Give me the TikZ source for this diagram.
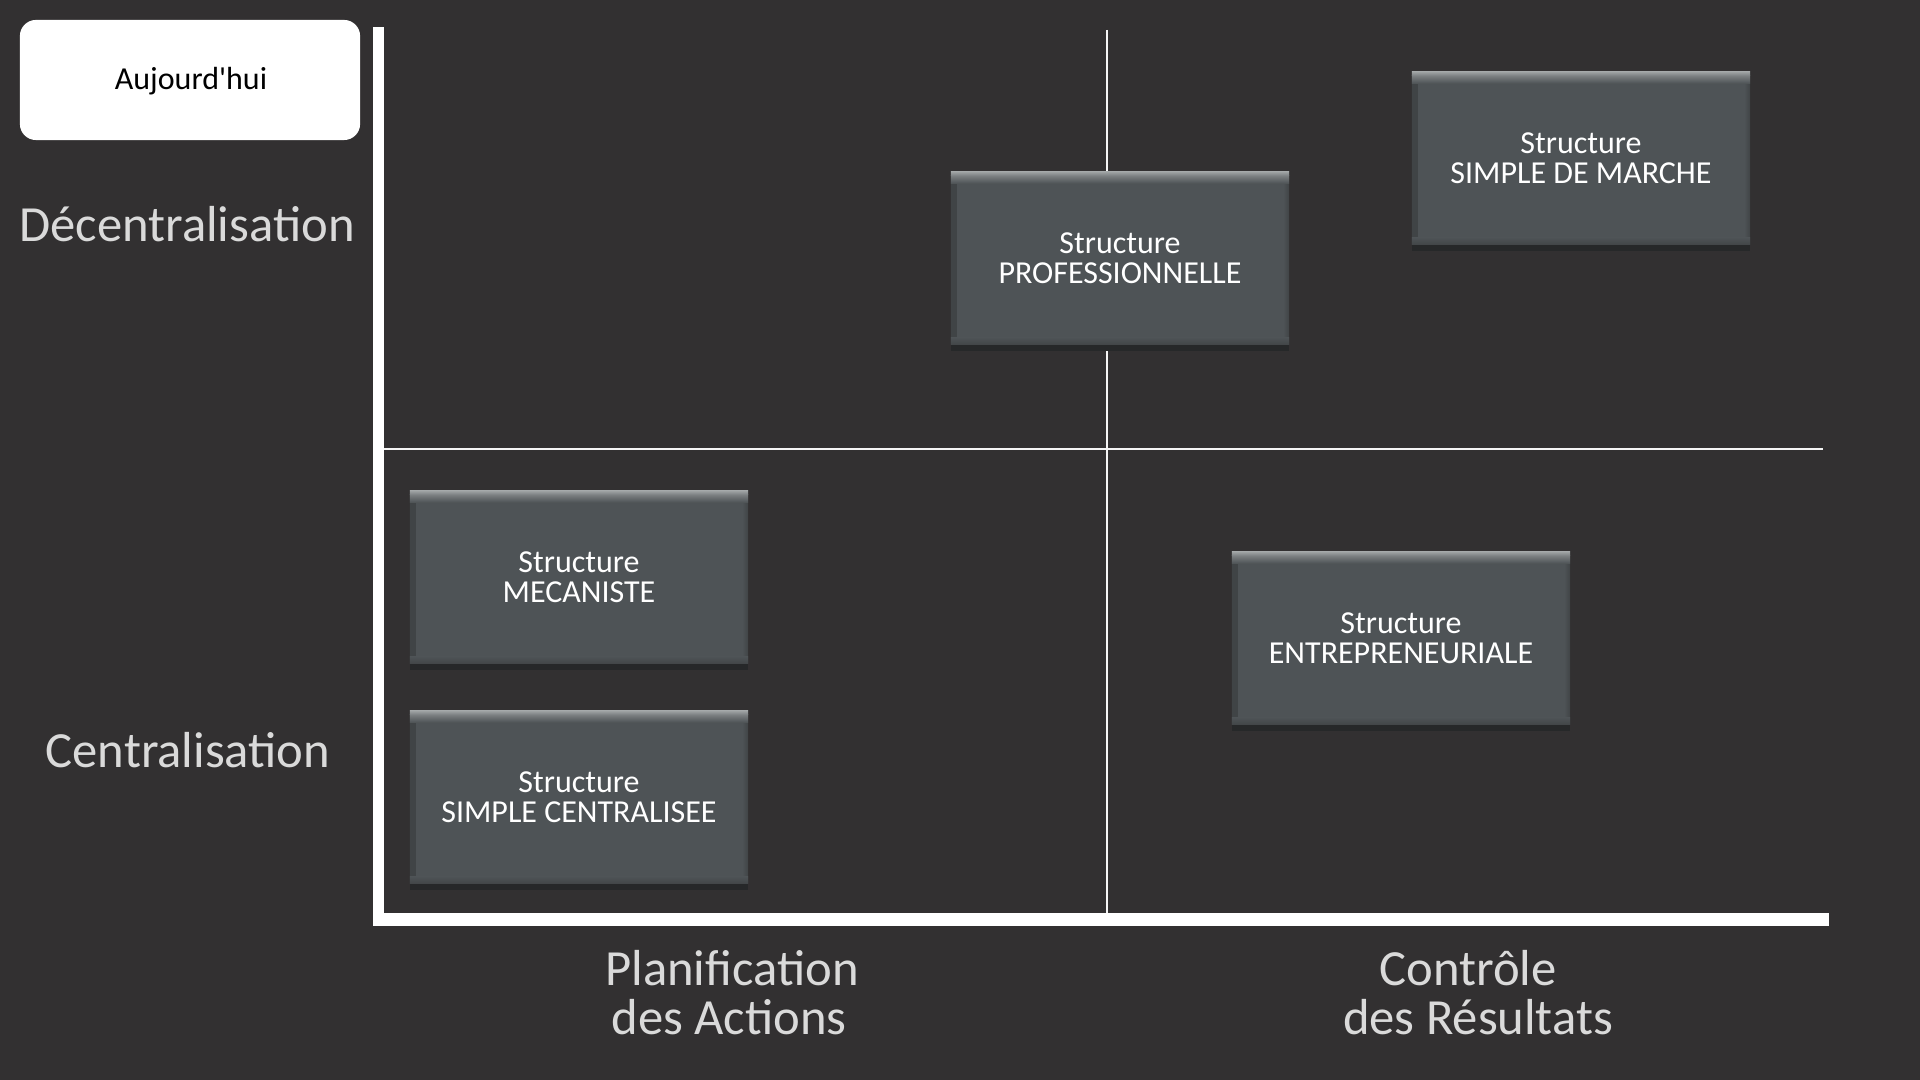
\documentclass[tikz,border=0pt]{standalone}
\usepackage{fontspec}
\setmainfont{Carlito}[Ligatures=TeXOff]
\definecolor{bgc}{HTML}{323031}
\definecolor{boxc}{HTML}{4E5356}
\definecolor{bevc}{HTML}{A2A6A7}
\definecolor{bevm}{HTML}{7A7E80}
\definecolor{shadc}{HTML}{262829}
\definecolor{edgec}{HTML}{404446}
\definecolor{botc}{HTML}{424648}
\definecolor{labc}{HTML}{DADADA}
\begin{document}
\begin{tikzpicture}[x=0.01cm,y=-0.01cm,
  box/.style={minimum width=3.38cm, minimum height=1.73cm, inner sep=0pt,
    fill=boxc, text=white, align=center,
    font=\fontsize{9.1}{8.6}\selectfont,
    preaction={fill=shadc, transform canvas={yshift=-0.06cm}},
    path picture={
      \fill[left color=edgec, right color=boxc]
        (path picture bounding box.north west) rectangle ([xshift=0.06cm]path picture bounding box.south west);
      \fill[right color=edgec, left color=boxc]
        ([xshift=-0.06cm]path picture bounding box.north east) rectangle (path picture bounding box.south east);
      \fill[top color=boxc, bottom color=botc]
        ([yshift=0.07cm]path picture bounding box.south west) rectangle (path picture bounding box.south east);
      \fill[top color=bevm, bottom color=boxc]
        ([yshift=-0.045cm]path picture bounding box.north west) rectangle ([yshift=-0.12cm]path picture bounding box.north east);
      \fill[top color=bevc, bottom color=bevm] (path picture bounding box.north west) rectangle ([yshift=-0.045cm]path picture bounding box.north east);
    }},
  axlab/.style={text=labc, font=\fontsize{14.4}{14}\selectfont, inner sep=0pt, anchor=base},
  thin/.style={draw=white!92!gray, line width=0.015cm},
  axis/.style={fill=white}
]
% background / bounding box
\fill[bgc] (0,0) rectangle (1920,1080);
\useasboundingbox (0,0) rectangle (1920,1080);

% named coordinates for the grid lines
\coordinate (vtop) at (1107,30);
\coordinate (vbot) at (1107,913);
\coordinate (hleft) at (384,449);
\coordinate (hright) at (1823,449);

% thin quadrant lines
\draw[thin] (vtop) -- (vbot);
\draw[thin] (hleft) -- (hright);

% thick axes
\fill[axis] (373,27) rectangle (384,926);
\fill[axis] (373,913) rectangle (1829,926);

% Aujourd'hui box
\node[draw=none, fill=white, rounded corners=0.16cm, minimum width=3.4cm, minimum height=1.2cm, inner sep=0pt] (ajbox) at (190,80) {};
\node[font=\fontsize{9.1}{10}\selectfont, text=black, inner sep=0pt, anchor=base] (aj) at (191,90) {Aujourd'hui};

% axis labels
\node[axlab] (ydec) at (187,242) {Décentralisation};
\node[axlab] (ycen) at (188,768) {Centralisation};
\node[axlab] (p1) at (732,986) {Planification};
\node[axlab] (p2) at (729,1035) {des Actions};
\node[axlab] (c1) at (1468,986) {Contrôle};
\node[axlab] (c2) at (1478,1035) {des Résultats};

% structure boxes
\node[box] (bprof) at (1120,258) {Structure\\PROFESSIONNELLE};
\node[box] (bmarche) at (1581,158) {Structure\\SIMPLE DE MARCHE};
\node[box] (bmeca) at (579,577) {Structure\\MECANISTE};
\node[box] (bcent) at (579,797) {Structure\\SIMPLE CENTRALISEE};
\node[box] (bentre) at (1401,638) {Structure\\ENTREPRENEURIALE};
\end{tikzpicture}
\end{document}
